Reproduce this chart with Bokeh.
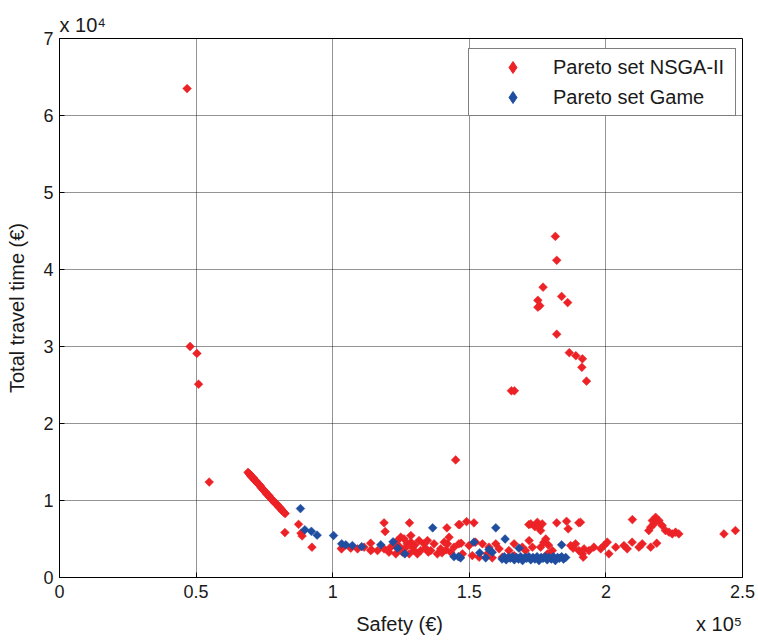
import numpy as np
from bokeh.plotting import figure
from bokeh.models import (ColumnDataSource, FixedTicker, Legend, LegendItem, LinearAxis, Title)
from bokeh.embed import file_html
from bokeh.resources import INLINE

# Safety (x 10^5 €) and Total travel time (x 10^4 €)
nsga_x = [0.467, 0.478, 0.503, 0.509, 0.548,
          0.690, 0.694, 0.697, 0.700, 0.703, 0.707, 0.710, 0.713, 0.716, 0.720, 0.722, 0.726,
          0.729, 0.732, 0.735, 0.738, 0.741, 0.745, 0.748, 0.751, 0.754, 0.757, 0.760, 0.764,
          0.767, 0.770, 0.773, 0.776, 0.779, 0.783, 0.786, 0.789, 0.792, 0.795, 0.798, 0.802,
          0.805, 0.808, 0.811, 0.815, 0.818, 0.822, 0.826,
          0.825, 0.875, 0.884, 0.888, 0.924, 1.033,
          1.032, 1.066, 1.091, 1.115, 1.139, 1.142,
          1.188, 1.192, 1.281, 1.418, 1.461,
          1.139, 1.164, 1.188, 1.212, 1.237, 1.249, 1.261, 1.273, 1.286, 1.298, 1.310, 1.322,
          1.334, 1.347, 1.359, 1.371, 1.383, 1.395, 1.408, 1.420, 1.426, 1.432, 1.444, 1.462,
          1.292, 1.206, 1.231, 1.255, 1.280, 1.286, 1.316, 1.225, 1.245, 1.265, 1.300, 1.340,
          1.350, 1.400, 1.415,
          1.450,
          1.465, 1.490, 1.517, 1.718, 1.725, 1.749, 1.767, 1.761, 1.740, 1.755, 1.820, 1.856,
          1.862, 1.901, 1.907,
          1.470, 1.499, 1.523, 1.548, 1.572, 1.597, 1.609, 1.645, 1.664, 1.694, 1.731, 1.761,
          1.773, 1.804, 1.871, 1.901, 1.914, 1.475, 1.511, 1.536, 1.566, 1.584, 1.621, 1.664,
          1.719, 1.706, 1.786, 1.889, 1.880, 1.780, 1.790,
          2.182, 2.170, 2.194, 2.176, 2.164, 2.157, 2.206, 2.218, 2.231, 2.243, 2.255, 2.267,
          2.097, 2.432, 2.474,
          1.920, 1.938, 1.956, 1.981, 1.993, 2.005, 2.011, 2.036, 2.066, 2.078, 2.096, 2.121,
          2.133, 2.164, 2.186, 1.917,
          1.815, 1.820, 1.770, 1.751, 1.751, 1.758, 1.838, 1.860, 1.820, 1.866, 1.890, 1.914,
          1.912, 1.929, 1.654, 1.665]
nsga_y = [6.35, 3.00, 2.91, 2.51, 1.24,
          1.366, 1.35, 1.34, 1.32, 1.31, 1.30, 1.29, 1.27, 1.26, 1.25, 1.24, 1.22,
          1.21, 1.20, 1.19, 1.17, 1.16, 1.14, 1.13, 1.12, 1.11, 1.09, 1.08, 1.07,
          1.06, 1.04, 1.03, 1.02, 1.01, 0.99, 0.98, 0.97, 0.96, 0.95, 0.94, 0.92,
          0.91, 0.90, 0.89, 0.87, 0.86, 0.845, 0.83,
          0.584, 0.69, 0.575, 0.54, 0.393, 0.38,
          0.372, 0.38, 0.372, 0.393, 0.445, 0.36,
          0.71, 0.597, 0.71, 0.645, 0.687,
          0.35, 0.35, 0.372, 0.394, 0.48, 0.523, 0.502, 0.437, 0.459, 0.35, 0.307, 0.35,
          0.437, 0.48, 0.35, 0.437, 0.307, 0.372, 0.459, 0.437, 0.523, 0.329, 0.394, 0.437,
          0.394, 0.329, 0.307, 0.329, 0.307, 0.545, 0.48, 0.42, 0.40, 0.38, 0.42, 0.38,
          0.33, 0.32, 0.36,
          1.527,
          0.687, 0.726, 0.71, 0.687, 0.696, 0.717, 0.696, 0.61, 0.66, 0.65, 0.71, 0.73,
          0.632, 0.71, 0.717,
          0.445, 0.415, 0.458, 0.437, 0.394, 0.437, 0.372, 0.35, 0.437, 0.394, 0.394, 0.394,
          0.458, 0.35, 0.415, 0.35, 0.307, 0.307, 0.285, 0.264, 0.307, 0.255, 0.264, 0.285,
          0.48, 0.35, 0.307, 0.437, 0.38, 0.50, 0.42,
          0.782, 0.739, 0.739, 0.696, 0.653, 0.61, 0.674, 0.61, 0.588, 0.566, 0.588, 0.566,
          0.752, 0.566, 0.61,
          0.372, 0.35, 0.394, 0.372, 0.415, 0.458, 0.307, 0.394, 0.415, 0.372, 0.458, 0.394,
          0.437, 0.394, 0.445, 0.264,
          4.43, 4.12, 3.77, 3.60, 3.51, 3.53, 3.65, 3.57, 3.16, 2.92, 2.88, 2.84,
          2.73, 2.55, 2.425, 2.425]

game_x = [0.882, 0.898, 0.922, 0.943, 1.003, 1.033, 1.048, 1.072, 1.106, 1.176, 1.221, 1.238,
          1.264, 1.366, 1.444, 1.460,
          1.597, 1.631, 1.517, 1.538, 1.572, 1.584, 1.682, 1.838, 1.468, 1.560,
          1.620, 1.635, 1.650, 1.665, 1.680, 1.695, 1.710, 1.725, 1.740, 1.755, 1.770, 1.785,
          1.800, 1.815, 1.830, 1.845, 1.853,
          1.628, 1.643, 1.658, 1.673, 1.688, 1.703, 1.718, 1.733, 1.748, 1.763, 1.778, 1.793,
          1.808, 1.823, 1.838,
          2.222, 2.310, 2.368, 2.060, 2.039, 1.962, 2.139, 2.157, 2.151]
game_y = [0.895, 0.62, 0.60, 0.55, 0.545, 0.437, 0.424, 0.415, 0.40, 0.424, 0.463, 0.38,
          0.307, 0.645, 0.27, 0.27,
          0.645, 0.50, 0.458, 0.32, 0.363, 0.328, 0.38, 0.424, 0.255, 0.255,
          0.24, 0.23, 0.25, 0.23, 0.24, 0.22, 0.25, 0.23, 0.24, 0.22, 0.25, 0.23,
          0.24, 0.22, 0.25, 0.24, 0.26,
          0.27, 0.26, 0.27, 0.26, 0.27, 0.26, 0.27, 0.26, 0.27, 0.26, 0.27, 0.26,
          0.27, 0.26, 0.27]

x_ticks = [0, 0.5, 1, 1.5, 2, 2.5]
x_tick_labels = ["0", "0.5", "1", "1.5", "2", "2.5"]
y_ticks = [0, 1, 2, 3, 4, 5, 6, 7]
y_tick_labels = ["0", "1", "2", "3", "4", "5", "6", "7"]
x_title = "Safety (€)"
y_title = "Total travel time (€)"
x_exponent = "x 10⁵"
y_exponent = "x 10⁴"
series_names = ["Pareto set NSGA-II", "Pareto set Game"]

RED = "#ec2227"
BLUE = "#1f4d9f"
FONT = "Liberation Sans"
TXT = "#1a1a1a"

p = figure(width=758, height=643, output_backend="svg", toolbar_location=None,
           x_range=(0, 2.5), y_range=(0, 7),
           min_border_left=59, min_border_right=16, min_border_top=38, min_border_bottom=66)

p.background_fill_color = "white"
p.border_fill_color = "white"
p.outline_line_color = "black"
p.outline_line_width = 1

src_n = ColumnDataSource(dict(x=nsga_x, y=nsga_y))
src_g = ColumnDataSource(dict(x=game_x, y=game_y))
p.scatter("x", "y", source=src_n, marker="square", angle=np.pi / 4, size=6.2,
          fill_color=RED, line_color=RED, line_width=0.5)
p.scatter("x", "y", source=src_g, marker="square", angle=np.pi / 4, size=6.2,
          fill_color=BLUE, line_color=BLUE, line_width=0.5)

# legend-only diamond glyphs (a single undrawn NaN point each)
leg_n = p.scatter(x=np.array([np.nan]), y=np.array([np.nan]), marker="diamond",
                  fill_color=RED, line_color=RED)
leg_g = p.scatter(x=np.array([np.nan]), y=np.array([np.nan]), marker="diamond",
                  fill_color=BLUE, line_color=BLUE)

p.xaxis.ticker = FixedTicker(ticks=x_ticks)
p.yaxis.ticker = FixedTicker(ticks=y_ticks)
p.xaxis.major_label_overrides = {t: l for t, l in zip(x_ticks, x_tick_labels)}
p.yaxis.major_label_overrides = {t: l for t, l in zip(y_ticks, y_tick_labels)}

for ax in (p.xaxis, p.yaxis):
    ax.major_tick_in = 5
    ax.major_tick_out = 0
    ax.minor_tick_in = 0
    ax.minor_tick_out = 0
    ax.axis_line_color = "black"
    ax.major_tick_line_color = "black"
    ax.major_label_text_font = FONT
    ax.major_label_text_font_size = "18px"
    ax.major_label_text_color = TXT
    ax.axis_label_text_font = FONT
    ax.axis_label_text_font_size = "20px"
    ax.axis_label_text_font_style = "normal"
    ax.axis_label_text_color = TXT

p.yaxis.axis_label = y_title
p.xaxis.major_label_standoff = 7
p.yaxis.major_label_standoff = 6
p.yaxis.axis_label_standoff = 12

# second row under the x axis: axis title and the power-of-ten factor, on one line
row_pos = {1.245: x_title, 2.414: x_exponent}
xrow = LinearAxis(ticker=FixedTicker(ticks=list(row_pos.keys())),
                  major_label_overrides=row_pos,
                  axis_line_color=None, major_tick_line_color=None,
                  major_tick_in=0, major_tick_out=0, minor_tick_in=0, minor_tick_out=0,
                  major_label_standoff=12,
                  major_label_text_font=FONT, major_label_text_font_size="20px",
                  major_label_text_color=TXT)
p.add_layout(xrow, "below")

p.add_layout(Title(text=y_exponent, align="left", standoff=6, text_font=FONT,
                   text_font_size="20px", text_font_style="normal", text_color=TXT), "above")

p.grid.grid_line_color = "black"
p.grid.grid_line_alpha = 0.85
p.grid.grid_line_dash = "1 1"
p.grid.grid_line_width = 1

legend = Legend(items=[LegendItem(label=series_names[0], renderers=[leg_n]),
                       LegendItem(label=series_names[1], renderers=[leg_g])],
                location=(409, 461), padding=3, spacing=0, glyph_width=81, glyph_height=30,
                label_height=30, label_width=179, label_standoff=0, margin=0,
                label_text_font=FONT, label_text_font_size="20px", label_text_color=TXT,
                border_line_color="black", border_line_width=1,
                background_fill_color="white", background_fill_alpha=1)
p.add_layout(legend, "center")

open("out.html", "w").write(file_html(p, INLINE))
